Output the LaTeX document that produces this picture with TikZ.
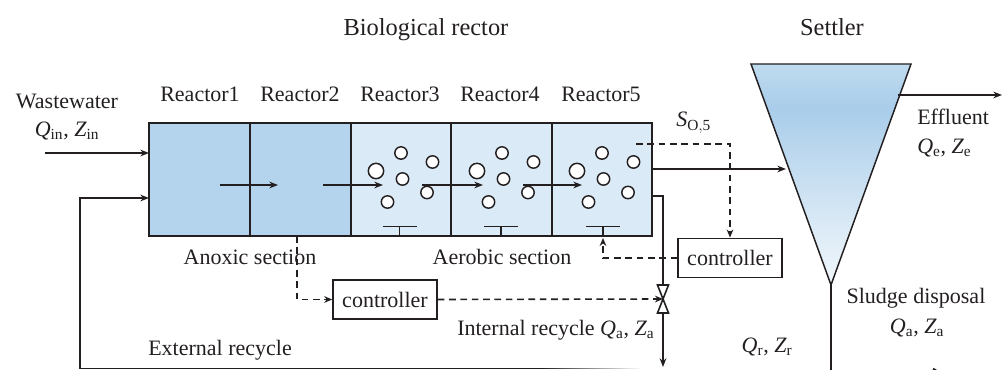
\documentclass[tikz,border=0pt]{standalone}
\usepackage{fontspec}
\setmainfont{Liberation Serif}
\usetikzlibrary{arrows.meta}
\definecolor{ink}{HTML}{231F20}
\definecolor{anox}{HTML}{B4D3EC}
\definecolor{aero}{HTML}{DAEAF6}
\definecolor{sdark}{HTML}{A9CDEA}
\definecolor{stop}{HTML}{BFDBEF}
\definecolor{smid}{HTML}{CFE3F3}
\definecolor{stip}{HTML}{F1F7FB}
\pgfdeclareverticalshading{settlershade}{100bp}{
  color(0bp)=(stip);
  color(25bp)=(stip);
  color(45bp)=(smid);
  color(65bp)=(sdark);
  color(75bp)=(stop);
  color(100bp)=(stop)}
\tikzset{
  x=0.75pt,y=-0.75pt,
  wire/.style={draw=ink,line width=1.2pt},
  flow/.style={wire,-{Stealth[length=6.5pt,width=5pt]}},
  ctrl/.style={draw=ink,line width=1.2pt,dash pattern=on 5pt off 3.5pt,-{Stealth[length=6pt,width=5pt]}},
  wall/.style={draw=ink,line width=1.5pt},
  bubble/.style={circle,draw=ink,line width=1.1pt,fill=white,inner sep=0pt},
  label/.style={font=\fontsize{16.5}{19}\selectfont,text=ink,inner sep=0pt},
  head/.style={font=\fontsize{18.3}{21}\selectfont,text=ink,inner sep=0pt},
  box/.style={draw=ink,line width=1.2pt,fill=white,font=\fontsize{16.5}{19}\selectfont,text=ink,minimum width=78pt,minimum height=29.5pt,inner sep=0pt},
}
\newcommand{\qz}[2]{$\mathit{Q}_{\mathrm{#1}}$, $\mathit{Z}_{\mathrm{#2}}$}
\begin{document}
\begin{tikzpicture}
\useasboundingbox (0,0) rectangle (1004,370);
% reactors
\fill[anox] (149,123) rectangle (350,236);
\fill[aero] (350,123) rectangle (652,236);
\draw[wall] (149,123) rectangle (652,236);
\foreach \xx in {249.5,350.5,451,551.5} \draw[wall] (\xx,123) -- (\xx,236);
% settler
\coordinate (st1) at (751,64);
\coordinate (st2) at (911,64);
\coordinate (st3) at (831,285);
\shade[shading=settlershade] (st1)--(st2)--(st3)--cycle;
\draw[draw=ink,line width=1.1pt,line join=miter] (st1)--(st2)--(st3)--cycle;
% bubbles
\foreach \dx in {0,101,201}{
 \begin{scope}[xshift=\dx*0.75pt]
 \node[bubble,minimum size=11.5pt] at (376,171) {};
 \node[bubble,minimum size=9.3pt] at (401,153) {};
 \node[bubble,minimum size=9.3pt] at (432.5,162) {};
 \node[bubble,minimum size=9.3pt] at (402.5,179) {};
 \node[bubble,minimum size=9.3pt] at (427,192.5) {};
 \node[bubble,minimum size=9.3pt] at (387.5,202) {};
 \end{scope}
}
\foreach \xx in {399.5,501,603} \draw[wire] (\xx-17,226.5) -- (\xx+17,226.5) (\xx,226.5) -- (\xx,236);
% labels
\node[head] at (426,29.7) {Biological rector};
\node[head] at (832,27) {Settler};
\node[label] at (67,101) {Wastewater};
\node[label] at (67,131) {\qz{in}{in}};
\foreach \xx/\nn in {200/1,300/2,400/3,500/4,601/5} \node[label] at (\xx,94) {Reactor\nn};
\node[label] at (250,257) {Anoxic section};
\node[label] at (502,257) {Aerobic section};
\node[label,anchor=west] at (148,350.5) {External recycle};
\node[label,anchor=west] at (457,330) {Internal recycle \qz{a}{a}};
\node[label,anchor=west] at (676,123) {$\mathit{S}_{\mathrm{O,5}}$};
\node[label,anchor=west] at (917,117) {Effluent};
\node[label,anchor=west] at (917,148) {\qz{e}{e}};
\node[label] at (916,298) {Sludge disposal};
\node[label] at (917,328) {\qz{a}{a}};
\node[label] at (767,347) {\qz{r}{r}};
% controllers
\node[box] (c1) at (730,258) {controller};
\node[box] (c2) at (385,299.5) {controller};
% flows
\coordinate (w0) at (45,153);
\coordinate (r1) at (149,153);
\draw[flow] (w0) -- (r1);
\coordinate (e0) at (540,368.7);
\coordinate (e1) at (80,368.7);
\coordinate (e2) at (80,198);
\coordinate (r2) at (149,198);
\draw[flow] (e0) -- (e1) -- (e2) -- (r2);
\foreach \i in {0,...,19} {
  \pgfmathsetmacro{\pp}{100-5*\i}
  \draw[draw=ink!\pp!white,line width=1.2pt] (540+5*\i,368.7) -- (545.5+5*\i,368.7);
}
\foreach \xa/\xb in {220/278,323/383,422/483,523/582} \draw[flow] (\xa,185) -- (\xb,185);
\coordinate (out) at (652,169);
\coordinate (sin) at (786,169);
\draw[flow] (out) -- (sin);
\coordinate (eff0) at (898,95);
\coordinate (eff1) at (1002,95);
\draw[flow] (eff0) -- (eff1);
\draw[wire] (st3) -- (831,370);
% internal recycle and valve
\coordinate (ir0) at (652,196);
\coordinate (irt) at (663,196);
\coordinate (irb) at (663,285);
\coordinate (irc) at (663,313);
\coordinate (ird) at (663,367);
\coordinate (v) at (663,299);
\draw[wire] (ir0) -- (irt) -- (irb);
\draw[flow] (irc) -- (ird);
\draw[wire,fill=white] (657.5,285)--(668.5,285)--(657.5,313)--(668.5,313)--cycle;
% dashed
\coordinate (d0) at (636,144);
\coordinate (d1) at (730,144);
\draw[ctrl] (d0) -- (d1) -- (c1.north);
\coordinate (d2) at (603,258);
\coordinate (d3) at (603,238);
\draw[ctrl] (c1.west) -- (d2) -- (d3);
\coordinate (d4) at (297,236);
\coordinate (d5) at (297,299.5);
\draw[ctrl] (d4) -- (d5) -- (c2.west);
\draw[ctrl] (c2.east) -- (v);
% bottom arrow tip, cut by the picture's edge
\fill[ink] (932.5,370) -- (933.5,367.8) -- (937,370) -- cycle;
\end{tikzpicture}
\end{document}
